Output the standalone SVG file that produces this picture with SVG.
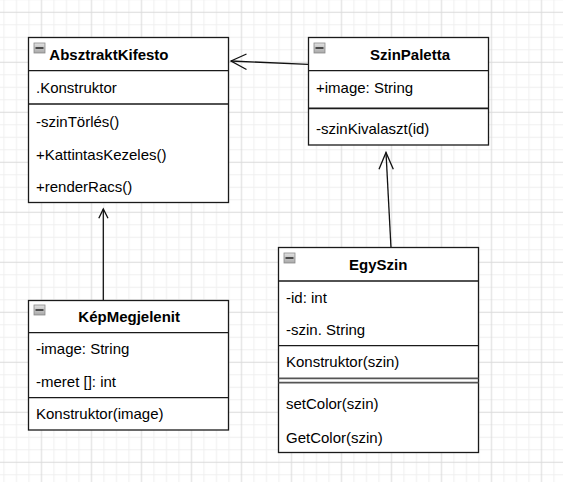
<svg xmlns="http://www.w3.org/2000/svg" width="563" height="482" viewBox="0 0 563 482">
  <style>
    .box { fill: #ffffff; stroke: #1a1a1a; stroke-width: 1.3; }
    .sep { stroke: #1a1a1a; stroke-width: 1.3; fill: none; }
    .dsep { stroke: #555555; stroke-width: 1.8; fill: none; }
    .title { font-family: "Liberation Sans", Arial, sans-serif; font-size: 15px; font-weight: bold; fill: #000000; }
    .txt { font-family: "Liberation Sans", Arial, sans-serif; font-size: 15px; fill: #000000; }
    .conn { stroke: #111111; stroke-width: 1.3; fill: none; }
    .icon { fill: url(#iconGrad); stroke: #8a8a8a; stroke-width: 0.8; }
    .minus { stroke: #222222; stroke-width: 1.5; }
  </style>
  <defs>
    <pattern id="grid" patternUnits="userSpaceOnUse" x="10.25" y="-18.95" width="50" height="50">
      <path d="M6.25 0V50M18.75 0V50M43.75 0V50M0 6.25H50M0 18.75H50M0 43.75H50" stroke="#efefef" stroke-width="1" fill="none"/>
      <path d="M31.25 0V50M0 31.25H50" stroke="#dadada" stroke-width="1" fill="none"/>
    </pattern>
    <linearGradient id="iconGrad" x1="0" y1="0" x2="0" y2="1">
      <stop offset="0" stop-color="#e2e2e2"/>
      <stop offset="1" stop-color="#a8a8a8"/>
    </linearGradient>
  </defs>
  <rect x="0" y="0" width="563" height="482" fill="#ffffff"/>
  <rect x="0" y="0" width="563" height="482" fill="url(#grid)"/>

  <g id="connectors">
    <path class="conn" d="M308 64.3L231 61"/>
    <path class="conn" d="M246.5 54 L231 61 L246.5 69.5"/>
    <path class="conn" d="M391 248L386 152.5"/>
    <path class="conn" d="M379 169.3 L386 152.5 L393.3 169.3"/>
    <path class="conn" d="M103.3 300.5V209"/>
    <path class="conn" d="M98.8 218.3 L103.3 209 L108 218.3"/>
  </g>

  <g id="AbsztraktKifesto">
    <rect class="box" x="28.5" y="37.5" width="200" height="165"/>
    <path class="sep" d="M28.5 70.7H228.5M28.5 104H228.5"/>
    <rect class="icon" x="34" y="43" width="11" height="10"/>
    <line class="minus" x1="35.5" y1="48" x2="43.5" y2="48"/>
    <text class="title" x="49.3" y="59.5">AbsztraktKifesto</text>
    <text class="txt" x="36" y="93">.Konstruktor</text>
    <text class="txt" x="36" y="126.7">-szinTörlés()</text>
    <text class="txt" x="36" y="160">+KattintasKezeles()</text>
    <text class="txt" x="36" y="191.7">+renderRacs()</text>
  </g>

  <g id="SzinPaletta">
    <rect class="box" x="308.5" y="37.5" width="180" height="107.5"/>
    <path class="sep" d="M308.5 70.7H488.5"/>
    <path class="sep" style="stroke-width:1.8" d="M308.5 108.3H488.5"/>
    <rect class="icon" x="314" y="43" width="11" height="10"/>
    <line class="minus" x1="315.5" y1="48" x2="323.5" y2="48"/>
    <text class="title" x="370" y="59.5">SzinPaletta</text>
    <text class="txt" x="316" y="93.3">+image: String</text>
    <text class="txt" x="316" y="134">-szinKivalaszt(id)</text>
  </g>

  <g id="EgySzin">
    <rect class="box" x="278.5" y="247.5" width="200" height="205"/>
    <path class="sep" d="M278.5 281H478.5M278.5 345.7H478.5"/>
    <path class="dsep" d="M278.5 378.3H478.5M278.5 382.7H478.5"/>
    <rect class="icon" x="284" y="253" width="11" height="10"/>
    <line class="minus" x1="285.5" y1="258" x2="293.5" y2="258"/>
    <text class="title" x="378.3" y="269.5" text-anchor="middle">EgySzin</text>
    <text class="txt" x="286" y="302.7">-id: int</text>
    <text class="txt" x="286" y="335">-szin. String</text>
    <text class="txt" x="286" y="367.3">Konstruktor(szin)</text>
    <text class="txt" x="286" y="409.3">setColor(szin)</text>
    <text class="txt" x="286" y="442.7">GetColor(szin)</text>
  </g>

  <g id="KepMegjelenit">
    <rect class="box" x="28.5" y="300.5" width="200" height="129.5"/>
    <path class="sep" d="M28.5 332.7H228.5M28.5 397.7H228.5"/>
    <rect class="icon" x="34" y="305" width="11" height="10"/>
    <line class="minus" x1="35.5" y1="310" x2="43.5" y2="310"/>
    <text class="title" x="78.3" y="321.7">KépMegjelenit</text>
    <text class="txt" x="36" y="354">-image: String</text>
    <text class="txt" x="36" y="386.7">-meret []: int</text>
    <text class="txt" x="36" y="419.3">Konstruktor(image)</text>
  </g>
</svg>
